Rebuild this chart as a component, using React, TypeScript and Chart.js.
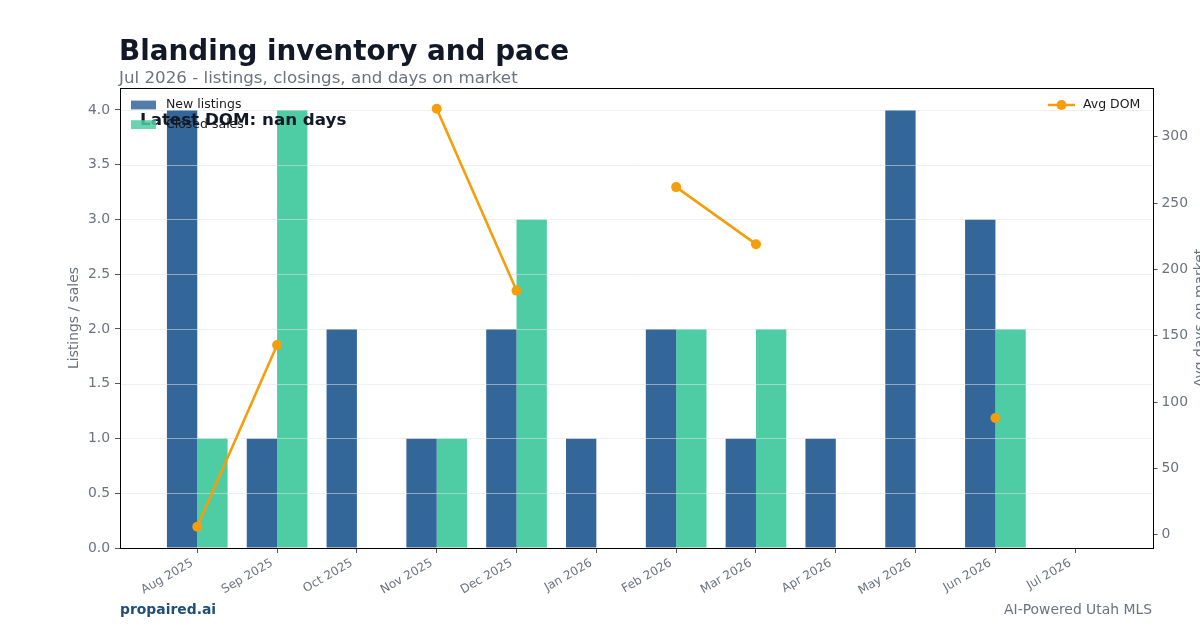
import React, { useEffect, useRef } from "react";
import { Chart, registerables } from "chart.js";

Chart.register(...registerables);

// ---- data ----
const months = [
  "Aug 2025", "Sep 2025", "Oct 2025", "Nov 2025", "Dec 2025", "Jan 2026",
  "Feb 2026", "Mar 2026", "Apr 2026", "May 2026", "Jun 2026", "Jul 2026",
];
const newListings = [4, 1, 2, 1, 2, 1, 2, 1, 1, 4, 3, 0];
const closedSales = [1, 4, 0, 1, 3, 0, 2, 2, 0, 0, 2, 0];
const avgDom: (number | null)[] = [6, 143, null, 321, 184, null, 262, 219, null, null, 88, null];
const leftTicks = [0, 0.5, 1, 1.5, 2, 2.5, 3, 3.5, 4];
const rightTicks = [0, 50, 100, 150, 200, 250, 300];

const titleText = "Blanding inventory and pace";
const subtitleText = "Jul 2026 - listings, closings, and days on market";
const noteText = "Latest DOM: nan days";
const brandText = "propaired.ai";
const footerText = "AI-Powered Utah MLS";

// ---- style ----
const FONT = "'DejaVu Sans', 'Liberation Sans', sans-serif";
const BLUE = "#336699";
const GREEN = "#4ecca3";
const ORANGE = "#f59e0b";
const GREY = "#6b7280";
const DARK = "#111827";
const TICK = "#555555";

const overlayPlugin = {
  id: "overlay",
  beforeDatasetDraw(chart: any, args: any) {
    if (args.index !== 0) return;
    const { ctx, chartArea } = chart;
    const ys = chart.scales.y;
    ctx.save();
    ctx.strokeStyle = "rgba(225,225,225,0.55)";
    ctx.lineWidth = 1;
    leftTicks.forEach((t) => {
      if (t === 0) return;
      const py = Math.round(ys.getPixelForValue(t)) + 0.5;
      ctx.beginPath();
      ctx.moveTo(chartArea.left, py);
      ctx.lineTo(chartArea.right, py);
      ctx.stroke();
    });
    ctx.restore();
  },
  afterDraw(chart: any) {
    const { ctx, chartArea } = chart;
    ctx.save();
    // frame
    ctx.strokeStyle = "#000";
    ctx.lineWidth = 1;
    ctx.strokeRect(
      Math.round(chartArea.left) + 0.5,
      Math.round(chartArea.top) + 0.5,
      Math.round(chartArea.right - chartArea.left),
      Math.round(chartArea.bottom - chartArea.top)
    );

    // title and subtitle
    ctx.textAlign = "left";
    ctx.textBaseline = "alphabetic";
    ctx.fillStyle = DARK;
    ctx.font = `bold 27.8px ${FONT}`;
    ctx.fillText(titleText, 119, 60);
    ctx.fillStyle = GREY;
    ctx.font = `16.7px ${FONT}`;
    ctx.fillText(subtitleText, 119, 83);

    // axis titles
    ctx.save();
    ctx.fillStyle = GREY;
    ctx.font = `13.9px ${FONT}`;
    ctx.textAlign = "center";
    const cy = (chartArea.top + chartArea.bottom) / 2;
    ctx.translate(78, cy);
    ctx.rotate(-Math.PI / 2);
    ctx.fillText("Listings / sales", 0, 0);
    ctx.restore();
    ctx.save();
    ctx.fillStyle = GREY;
    ctx.font = `13.9px ${FONT}`;
    ctx.textAlign = "center";
    ctx.translate(1203.5, cy);
    ctx.rotate(-Math.PI / 2);
    ctx.fillText("Avg days on market", 0, 0);
    ctx.restore();

    // note text
    ctx.fillStyle = DARK;
    ctx.font = `bold 16.7px ${FONT}`;
    ctx.textAlign = "left";
    ctx.fillText(noteText, 140, 125);

    // left legend (drawn over the note, as in the reference)
    ctx.font = `12.5px ${FONT}`;
    ctx.textBaseline = "middle";
    const rows = [
      { label: "New listings", color: BLUE, y: 105 },
      { label: "Closed sales", color: GREEN, y: 124.6 },
    ];
    rows.forEach((r) => {
      ctx.globalAlpha = 0.85;
      ctx.fillStyle = r.color;
      ctx.fillRect(131, r.y - 4.4, 25, 8.8);
      ctx.globalAlpha = 1;
      ctx.fillStyle = "#1a1a1a";
      ctx.fillText(r.label, 166, r.y);
    });

    // right legend
    ctx.strokeStyle = ORANGE;
    ctx.lineWidth = 2.5;
    ctx.beginPath();
    ctx.moveTo(1048, 105);
    ctx.lineTo(1075, 105);
    ctx.stroke();
    ctx.fillStyle = ORANGE;
    ctx.beginPath();
    ctx.arc(1061.5, 105, 5, 0, Math.PI * 2);
    ctx.fill();
    ctx.fillStyle = "#1a1a1a";
    ctx.fillText("Avg DOM", 1083, 105);

    // footer
    ctx.textBaseline = "alphabetic";
    ctx.fillStyle = "#1f4e79";
    ctx.font = `bold 13.9px ${FONT}`;
    ctx.textAlign = "left";
    ctx.fillText(brandText, 120, 614);
    ctx.fillStyle = GREY;
    ctx.font = `13.9px ${FONT}`;
    ctx.textAlign = "right";
    ctx.fillText(footerText, 1152, 614);
    ctx.restore();
  },
};

export default function App() {
  const canvasRef = useRef<HTMLCanvasElement | null>(null);

  useEffect(() => {
    const canvas = canvasRef.current;
    if (!canvas) return;
    const tickFont = { family: FONT, size: 13.9 };
    const chart = new Chart(canvas, {
      type: "bar",
      data: {
        datasets: [
          {
            type: "line",
            label: "Avg DOM",
            data: avgDom.map((v, i) => ({ x: i, y: v })),
            yAxisID: "y1",
            xAxisID: "x",
            borderColor: ORANGE,
            backgroundColor: ORANGE,
            borderWidth: 2.6,
            pointRadius: 5,
            pointHoverRadius: 5,
            pointBorderWidth: 0,
            spanGaps: false,
            order: 0,
          } as any,
          {
            type: "bar",
            label: "New listings",
            data: newListings.map((v, i) => ({ x: i, y: v })),
            yAxisID: "y",
            xAxisID: "x",
            backgroundColor: BLUE,
            categoryPercentage: 0.76,
            barPercentage: 1,
            order: 1,
          } as any,
          {
            type: "bar",
            label: "Closed sales",
            data: closedSales.map((v, i) => ({ x: i, y: v })),
            yAxisID: "y",
            xAxisID: "x",
            backgroundColor: GREEN,
            categoryPercentage: 0.76,
            barPercentage: 1,
            order: 1,
          } as any,
        ],
      },
      options: {
        animation: false,
        responsive: false,
        maintainAspectRatio: false,
        layout: { padding: { top: 88, left: 0, right: 0, bottom: 0 } },
        plugins: {
          legend: { display: false },
          tooltip: { enabled: false },
          title: { display: false },
        },
        scales: {
          x: {
            type: "linear",
            min: -0.968,
            max: 11.968,
            offset: false,
            afterBuildTicks: (axis: any) => {
              axis.ticks = months.map((_, i) => ({ value: i }));
            },
            afterFit: (s: any) => {
              s.height = 82;
            },
            grid: { display: true, offset: false, drawOnChartArea: false, drawTicks: true, tickLength: 5, tickColor: TICK },
            border: { display: false },
            ticks: {
              autoSkip: false,
              maxRotation: 30,
              minRotation: 30,
              padding: 3,
              labelOffset: -5,
              color: GREY,
              font: { family: FONT, size: 12 },
              callback: (v: any) => months[v] ?? "",
            },
          },
          y: {
            type: "linear",
            position: "left",
            min: 0,
            max: 4.2,
            afterBuildTicks: (axis: any) => {
              axis.ticks = leftTicks.map((v) => ({ value: v }));
            },
            afterFit: (s: any) => {
              s.width = 120;
            },
            grid: { display: true, drawOnChartArea: false, drawTicks: true, tickLength: 5, tickColor: TICK },
            border: { display: false },
            ticks: {
              padding: 5,
              color: GREY,
              font: tickFont,
              callback: (v: any) => Number(v).toFixed(1),
            },
          },
          y1: {
            type: "linear",
            position: "right",
            min: -10,
            max: 336.7,
            afterBuildTicks: (axis: any) => {
              axis.ticks = rightTicks.map((v) => ({ value: v }));
            },
            afterFit: (s: any) => {
              s.width = 47.5;
            },
            grid: { display: true, drawOnChartArea: false, drawTicks: true, tickLength: 5, tickColor: TICK },
            border: { display: false },
            ticks: {
              padding: 4,
              color: GREY,
              font: tickFont,
              callback: (v: any) => String(v),
            },
          },
        },
      } as any,
      plugins: [overlayPlugin],
    });
    return () => chart.destroy();
  }, []);

  return (
    <div style={{ position: "fixed", left: 0, top: 0, width: 1200, height: 630, background: "#fff" }}>
      <canvas ref={canvasRef} width={1200} height={630} style={{ display: "block", width: 1200, height: 630 }} />
    </div>
  );
}
